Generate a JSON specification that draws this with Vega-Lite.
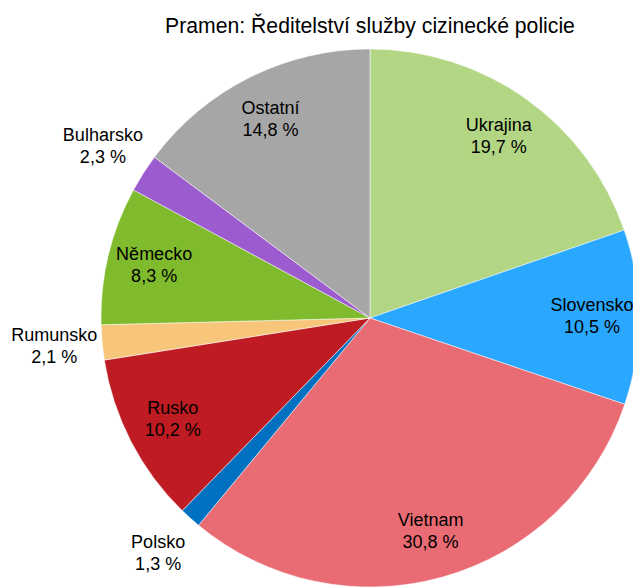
{
  "$schema": "https://vega.github.io/schema/vega-lite/v6.json",
  "width": 740,
  "height": 556,
  "autosize": {"type": "none"},
  "padding": {"top": 40, "left": 0, "right": 0, "bottom": 0},
  "background": "white",
  "title": {
    "text": "Pramen: Ředitelství služby cizinecké policie",
    "font": "Liberation Sans",
    "fontSize": 21.2,
    "fontWeight": "normal",
    "color": "#000000",
    "anchor": "middle",
    "frame": "group",
    "baseline": "alphabetic",
    "offset": 8,
    "dy": 22
  },
  "data": {
    "values": [
      {"zeme": "Ukrajina", "podil": 19.7},
      {"zeme": "Slovensko", "podil": 10.5},
      {"zeme": "Vietnam", "podil": 30.8},
      {"zeme": "Polsko", "podil": 1.3},
      {"zeme": "Rusko", "podil": 10.2},
      {"zeme": "Rumunsko", "podil": 2.1},
      {"zeme": "Německo", "podil": 8.3},
      {"zeme": "Bulharsko", "podil": 2.3},
      {"zeme": "Ostatní", "podil": 14.8}
    ]
  },
  "transform": [
    {"window": [{"op": "row_number", "as": "poradi"}]},
    {"stack": "podil", "groupby": [], "sort": [{"field": "poradi", "order": "ascending"}], "as": ["t0", "t1"]},
    {"calculate": "(datum.t0 + datum.t1) / 2", "as": "tmid"},
    {"calculate": "datum.zeme + '\\n' + replace(format(datum.podil, '.1f'), '.', ',') + ' %'", "as": "popisek"}
  ],
  "layer": [
    {
      "mark": {"type": "arc", "outerRadius": 269, "stroke": "white", "strokeWidth": 0.5},
      "encoding": {
        "theta": {"field": "t0", "type": "quantitative", "scale": {"domain": [0, 100]}},
        "theta2": {"field": "t1"},
        "color": {
          "field": "zeme",
          "type": "nominal",
          "legend": null,
          "scale": {
            "domain": ["Ukrajina", "Slovensko", "Vietnam", "Polsko", "Rusko", "Rumunsko", "Německo", "Bulharsko", "Ostatní"],
            "range": ["#b3d685", "#2aa8ff", "#e96b73", "#0070c0", "#be1b22", "#f8c67a", "#80bb2e", "#9c5ccf", "#a6a6a6"]
          }
        }
      }
    },
    {
      "transform": [{"filter": "datum.podil >= 3"}],
      "mark": {"type": "text", "radius": 222, "dy": -11, "font": "Liberation Sans", "fontSize": 18, "lineHeight": 22, "align": "center", "baseline": "middle", "color": "#000000", "lineBreak": "\n"},
      "encoding": {
        "theta": {"field": "tmid", "type": "quantitative", "stack": null, "scale": {"domain": [0, 100]}},
        "text": {"field": "popisek"}
      }
    },
    {
      "transform": [{"filter": "datum.podil < 3"}],
      "mark": {"type": "text", "radius": 317, "dy": -11, "font": "Liberation Sans", "fontSize": 18, "lineHeight": 22, "align": "center", "baseline": "middle", "color": "#000000", "lineBreak": "\n"},
      "encoding": {
        "theta": {"field": "tmid", "type": "quantitative", "stack": null, "scale": {"domain": [0, 100]}},
        "text": {"field": "popisek"}
      }
    }
  ]
}
